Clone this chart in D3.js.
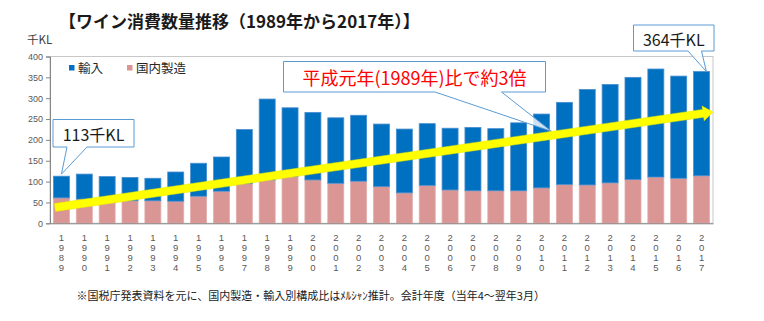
<!DOCTYPE html>
<html lang="ja">
<head>
<meta charset="utf-8">
<script src="https://cdn.jsdelivr.net/npm/d3@7"></script>
<style>
  html, body { margin: 0; padding: 0; background: #fff; }
  body { width: 764px; height: 321px; overflow: hidden; font-family: "Noto Sans CJK JP", "Noto Sans", sans-serif; }
</style>
</head>
<body>
<div id="chart"></div>
<script>
// 会計年度
const years = ["1989","1990","1991","1992","1993","1994","1995","1996","1997","1998",
  "1999","2000","2001","2002","2003","2004","2005","2006","2007","2008",
  "2009","2010","2011","2012","2013","2014","2015","2016","2017"];

// 千KL
const domestic = [61,58,50,54,54,53,65,77,95,104,112,104,96,101,88,73,91,80,78,78,78,85,93,92,97,105,111,108,114];
const imports  = [52,60,62,56,54,70,79,82,130,194,165,162,157,158,150,153,148,148,152,149,163,177,197,229,236,245,259,245,250];

const yTicks = [0,50,100,150,200,250,300,350,400];
const seriesNames = { imports: "輸入", domestic: "国内製造" };
const trendEnds = [38, 267]; // 矢印の始点・終点の値

const title = "【ワイン消費数量推移（1989年から2017年）】";
const unitLabel = "千KL";
const trendNote = "平成元年(1989年)比で約3倍";
const footnote = "※国税庁発表資料を元に、国内製造・輸入別構成比はﾒﾙｼｬﾝ推計。会計年度（当年4～翌年3月）";

class makeChart {

  constructor(opts) {
    Object.assign(this, opts);
    this.update();
  }

  update() {
    this._setDimensions();
    this._setScales();
    this.draw();
  }

  _setDimensions() {
    this.width = 764;
    this.height = 321;
    this.plotBox = { left: 50, right: 713, top: 56.5, bottom: 223.3 };
  }

  _setScales() {
    const b = this.plotBox;
    this.xScale = d3.scaleBand()
      .domain(years)
      .range([b.left, b.right])
      .paddingInner(0.3)
      .paddingOuter(0.15);

    this.yScale = d3.scaleLinear()
      .domain([0, 400])
      .range([b.bottom, b.top]);
  }

  draw() {
    const x = this.xScale, y = this.yScale, b = this.plotBox;
    this.element.innerHTML = "";

    this.svg = d3.select(this.element).append("svg")
      .attr("width", this.width)
      .attr("height", this.height)
      .style("font-family", '"Noto Sans CJK JP", "Noto Sans", sans-serif');

    // title and unit
    this.svg.append("text")
      .attr("x", 59).attr("y", 20)
      .attr("dominant-baseline", "central")
      .style("font-size", "17px").style("font-weight", "bold").attr("fill", "#1a1a1a")
      .text(title);

    this.svg.append("text")
      .attr("x", 27).attr("y", 39)
      .attr("dominant-baseline", "central")
      .style("font-size", "11.5px").attr("fill", "#404040")
      .text(unitLabel);

    // plot frame
    this.svg.append("rect")
      .attr("x", b.left).attr("y", b.top)
      .attr("width", b.right - b.left).attr("height", b.bottom - b.top)
      .attr("fill", "none").attr("stroke", "#c8c8c8");

    // stacked bars
    const rows = years.map((yr, i) => ({ year: yr, domestic: domestic[i], imports: imports[i] }));
    const stack = d3.stack().keys(["domestic", "imports"])(rows);
    const fills = { domestic: "#d99694", imports: "#0070c0" };
    const strokes = { domestic: "#e3aead", imports: "#4a8fd0" };

    this.plot = this.svg.append("g").attr("class", "chart-g");
    this.plot.selectAll("g.series")
      .data(stack)
      .join("g")
      .attr("class", "series")
      .attr("fill", d => fills[d.key])
      .attr("stroke", d => strokes[d.key])
      .attr("stroke-width", 0.8)
      .selectAll("rect")
      .data(d => d)
      .join("rect")
      .attr("x", d => x(d.data.year))
      .attr("width", x.bandwidth())
      .attr("y", d => y(d[1]))
      .attr("height", d => y(d[0]) - y(d[1]));

    // y axis
    this.yAxis = d3.axisLeft(y).tickValues(yTicks).tickSize(4).tickPadding(3);
    const ya = this.plot.append("g")
      .classed("axis y-axis", true)
      .attr("transform", `translate(${b.left},0)`)
      .call(this.yAxis);
    ya.select(".domain").attr("stroke", "#868686");
    ya.selectAll(".tick line").attr("stroke", "#868686");
    ya.selectAll("text").style("font-size", "9px").attr("fill", "#595959")
      .style("font-family", '"Liberation Sans", Arial, sans-serif');

    // x axis, year digits stacked vertically
    this.xAxis = d3.axisBottom(x).tickSize(0).tickSizeOuter(0);
    const xa = this.plot.append("g")
      .classed("axis x-axis", true)
      .attr("transform", `translate(0,${b.bottom})`)
      .call(this.xAxis);
    xa.select(".domain").attr("stroke", "#868686");
    xa.selectAll(".tick text").each(function(d) {
      const t = d3.select(this).text(null).attr("dy", null).attr("y", null)
        .style("font-size", "9.5px").attr("fill", "#595959")
        .style("font-family", '"Liberation Sans", Arial, sans-serif');
      d.split("").forEach((ch, i) => {
        t.append("tspan").attr("x", 0).attr("y", 17.5 + i * 10).text(ch);
      });
    });

    // legend
    const legend = this.svg.append("g").attr("class", "legend");
    const legendItems = [
      { key: "imports", x: 69 },
      { key: "domestic", x: 127 }
    ];
    legendItems.forEach(item => {
      legend.append("rect")
        .attr("x", item.x).attr("y", 65)
        .attr("width", 5.5).attr("height", 5.5)
        .attr("fill", fills[item.key]);
      legend.append("text")
        .attr("x", item.x + 9).attr("y", 67.8)
        .attr("dominant-baseline", "central")
        .style("font-size", "12.5px").attr("fill", "#262626")
        .text(seriesNames[item.key]);
    });

    // trend arrow
    const p0 = [x(years[0]) + 1.5, y(trendEnds[0])];
    const p1 = [b.right, y(trendEnds[1])];
    const dx = p1[0] - p0[0], dy = p1[1] - p0[1];
    const len = Math.hypot(dx, dy);
    const ux = dx / len, uy = dy / len, nx = -uy, ny = ux;
    const half = 4, headLen = 10, headHalf = 7.5;
    const hb = [p1[0] - ux * headLen, p1[1] - uy * headLen];
    const arrowPts = [
      [p0[0] + nx * half, p0[1] + ny * half],
      [hb[0] + nx * half, hb[1] + ny * half],
      [hb[0] + nx * headHalf, hb[1] + ny * headHalf],
      p1,
      [hb[0] - nx * headHalf, hb[1] - ny * headHalf],
      [hb[0] - nx * half, hb[1] - ny * half],
      [p0[0] - nx * half, p0[1] - ny * half]
    ];

    // callouts: box with a pointer from its bottom edge
    const callout = (box, base, tip, label, opts) => {
      const g = this.svg.append("g").attr("class", "callout");
      const path = d3.path();
      path.moveTo(box.x0, box.y0);
      path.lineTo(box.x1, box.y0);
      path.lineTo(box.x1, box.y1);
      path.lineTo(base[1], box.y1);
      path.lineTo(tip[0], tip[1]);
      path.lineTo(base[0], box.y1);
      path.lineTo(box.x0, box.y1);
      path.closePath();
      g.append("path")
        .attr("d", path.toString())
        .attr("fill", "#fff").attr("fill-opacity", 0.8)
        .attr("stroke", "#5b9bd5").attr("stroke-width", 1);
      g.append("text")
        .attr("x", (box.x0 + box.x1) / 2).attr("y", (box.y0 + box.y1) / 2 + 0.5)
        .attr("text-anchor", "middle").attr("dominant-baseline", "central")
        .style("font-size", opts.size).attr("fill", opts.color)
        .text(label);
    };

    const first = rows[0], last = rows[rows.length - 1];
    const fmt = r => `${r.domestic + r.imports}千KL`;

    callout({ x0: 53, y0: 119.5, x1: 134, y1: 147 }, [67, 87],
      [x(first.year) + x.bandwidth() / 2, y(first.domestic + first.imports) - 2],
      fmt(first), { size: "16px", color: "#1a1a1a" });

    callout({ x0: 633.5, y0: 25, x1: 714, y1: 51 }, [688, 701.5],
      [x(last.year) + x.bandwidth() * 0.8, y(last.domestic + last.imports)],
      fmt(last), { size: "16px", color: "#1a1a1a" });

    // pointer lands on the upper edge of the trend arrow
    const tipX = 551.5;
    const tipY = p0[1] + (tipX - p0[0]) * dy / dx - half / Math.abs(ux);
    callout({ x0: 283.5, y0: 61.5, x1: 545.5, y1: 92 }, [435, 501.5],
      [tipX, tipY], trendNote, { size: "18px", color: "#ff0000" });

    this.svg.append("polygon")
      .attr("points", arrowPts.map(p => p.join(",")).join(" "))
      .attr("fill", "#ffff00")
      .attr("stroke", "#e8e800").attr("stroke-width", 0.5);

    // footnote
    this.svg.append("text")
      .attr("x", 76.5).attr("y", 295)
      .attr("dominant-baseline", "central")
      .style("font-size", "11px").attr("fill", "#1a1a1a")
      .text(footnote);
  }
}

new makeChart({ element: document.getElementById("chart") });
</script>
</body>
</html>
